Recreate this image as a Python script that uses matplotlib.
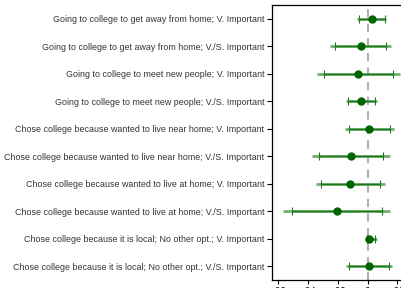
import matplotlib
matplotlib.use("Agg")
import matplotlib.pyplot as plt

labels = [
    "Going to college to get away from home; V. Important",
    "Going to college to get away from home; V./S. Important",
    "Going to college to meet new people; V. Important",
    "Going to college to meet new people; V./S. Important",
    "Chose college because wanted to live near home; V. Important",
    "Chose college because wanted to live near home; V./S. Important",
    "Chose college because wanted to live at home; V. Important",
    "Chose college because wanted to live at home; V./S. Important",
    "Chose college because it is local; No other opt.; V. Important",
    "Chose college because it is local; No other opt.; V./S. Important",
]
coef = [0.0029, -0.0047, -0.0065, -0.0045, 0.0009, -0.0114, -0.0119, -0.0209, 0.0012, 0.0007]
ci95_lo = [-0.0070, -0.0253, -0.0339, -0.0148, -0.0155, -0.0372, -0.0350, -0.0567, -0.0020, -0.0144]
ci95_hi = [0.0125, 0.0155, 0.0215, 0.0065, 0.0177, 0.0148, 0.0118, 0.0150, 0.0063, 0.0163]
ci90_lo = [-0.0061, -0.0220, -0.0296, -0.0130, -0.0128, -0.0329, -0.0312, -0.0511, -0.0005, -0.0126]
ci90_hi = [0.0114, 0.0123, 0.0170, 0.0049, 0.0150, 0.0103, 0.0081, 0.0094, 0.0051, 0.0141]
xticks = [-0.06, -0.04, -0.02, 0, 0.02]
xticklabels = ["-.06", "-.04", "-.02", "0", ".02"]

plt.rcParams['font.family'] = ['Liberation Sans', 'DejaVu Sans']

fig = plt.figure(figsize=(4.02, 2.88), dpi=100)
ax = fig.add_axes([272 / 402, 8 / 288, 140 / 402, 275 / 288])

ys = list(range(len(labels)))
ax.axvline(0, color="#b0b0b0", lw=1.5, ls=(0, (4, 3)), zorder=1)

for y, c, lo95, hi95, lo90, hi90 in zip(ys, coef, ci95_lo, ci95_hi, ci90_lo, ci90_hi):
    ax.plot([lo95, hi95], [y, y], color="#5aa05a", lw=2.0, alpha=0.85, zorder=2,
            solid_capstyle="butt")
    ax.errorbar(c, y, xerr=[[c - lo90], [hi90 - c]], fmt="none", ecolor="#1a7a1a",
                elinewidth=1.0, capsize=3, capthick=0.8, zorder=3)
    ax.plot(c, y, "o", color="#006400", ms=5, zorder=4)

ax.set_ylim(9.5, -0.5)
ax.set_xlim(-0.0643, 0.0298)
ax.set_yticks(ys)
ax.set_yticklabels(labels, fontsize=6.4, color="#333333")
ax.set_xticks(xticks)
ax.set_xticklabels(xticklabels, fontsize=7)
ax.tick_params(axis="y", length=3.5, width=0.8, pad=2)
ax.tick_params(axis="x", length=3, width=0.8, pad=2)
for s in ax.spines.values():
    s.set_linewidth(0.9)

fig.savefig("out.png", dpi=100)
